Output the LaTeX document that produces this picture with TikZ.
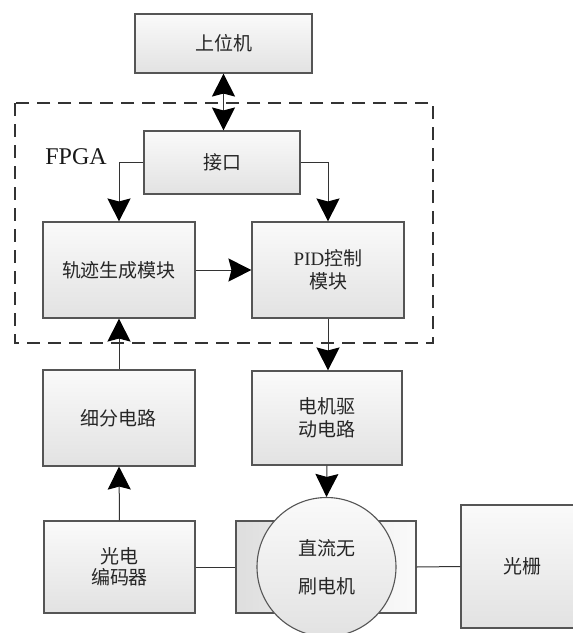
\documentclass[tikz,border=0pt]{standalone}
\usepackage{fontspec}
\setmainfont{Liberation Serif}
\newfontfamily\cjk{Noto Sans CJK SC}
\usetikzlibrary{arrows.meta,calc}
\definecolor{edge}{RGB}{85,85,85}
\definecolor{ftop}{RGB}{250,250,250}
\definecolor{fbot}{RGB}{226,226,226}
\definecolor{fleft}{RGB}{222,222,222}
\tikzset{
  boxbase/.style={draw=edge, line width=1.1pt,
    inner sep=0pt, align=center, font=\fontsize{19}{23}\selectfont\cjk, text=black!85},
  box/.style={boxbase, top color=ftop, bottom color=fbot},
  conn/.style={draw=black!80, line width=1pt},
  tip/.style={Stealth[length=23pt,width=23pt,inset=3pt,color=black]},
  arr/.style={conn, -{Stealth[length=23pt,width=23pt,inset=3pt,color=black]}},
  barr/.style={conn, {Stealth[length=23pt,width=23pt,inset=3pt,color=black]}-{Stealth[length=23pt,width=23pt,inset=3pt,color=black]}},
}
\begin{document}
\begin{tikzpicture}[x=1pt,y=-1pt]
\useasboundingbox (0,0) rectangle (573,633);
\clip (0,0) rectangle (573,633);
\fill[white] (0,0) rectangle (573,633);

% FPGA dashed region
\draw[draw=black!80, line width=1.3pt, dash pattern=on 13pt off 8pt] (15,103) rectangle (433,343);
\node[font=\fontsize{24}{28}\selectfont, text=black!90] (fpga) at (76,157) {FPGA};

% boxes
\node[box, minimum width=177pt, minimum height=59pt] (sw) at (223.5,43.5) {上位机};
\node[box, minimum width=156pt, minimum height=63pt] (jk) at (222,162.5) {接口};
\node[box, minimum width=152pt, minimum height=96pt] (gj) at (119,270) {轨迹生成模块};
\node[box, minimum width=152pt, minimum height=96pt] (pid) at (328,270) {{\rmfamily PID}控制\\模块};
\node[box, minimum width=152pt, minimum height=96pt] (xf) at (119,418) {细分电路};
\node[box, minimum width=150pt, minimum height=94pt] (dj) at (327,418) {电机驱\\动电路};
\node[box, minimum width=151pt, minimum height=92pt, font=\fontsize{19}{21}\selectfont\cjk] (gd) at (119.5,567) {光电\\编码器};
\node[boxbase, minimum width=180pt, minimum height=92pt, left color=fleft, right color=ftop] (mr) at (326,567) {};
\node[box, circle, minimum size=139pt, font=\fontsize{19}{38}\selectfont\cjk] (mt) at (326.5,567) {直流无\\刷电机};
\node[box, minimum width=122pt, minimum height=123pt] (gs) at (522,566.5) {光栅};

% connectors
\draw[barr] (sw.south) -- (sw.south |- jk.north);
\draw[arr] (jk.west) -| (gj.north);
\draw[arr] (jk.east) -| (pid.north);
\draw[arr] (gj.east) -- (pid.west);
\draw[arr] (pid.south) -- (pid.south |- dj.north);
\draw[arr] (dj.south) -- (mt.north);
\draw[arr] (xf.north) -- (gj.south);
\draw[arr] (gd.north) -- (xf.south);
\draw[conn] (gd.east) -- (mr.west);
\draw[conn] (mr.east) -- (gs.west);
\end{tikzpicture}
\end{document}
